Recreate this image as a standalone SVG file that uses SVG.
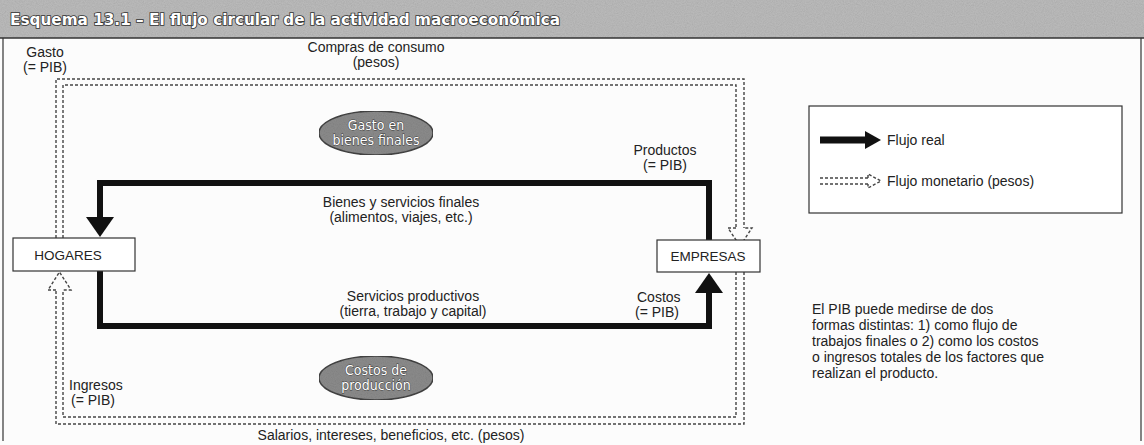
<svg xmlns="http://www.w3.org/2000/svg" width="1144" height="445" viewBox="0 0 1144 445">
<defs>
<filter id="noise" x="0" y="0" width="100%" height="100%">
<feTurbulence type="fractalNoise" baseFrequency="0.9" numOctaves="2" seed="3" result="n"/>
<feColorMatrix type="saturate" values="0"/>
<feComponentTransfer><feFuncA type="linear" slope="0.35"/></feComponentTransfer>
<feComposite in2="SourceGraphic" operator="in"/>
<feBlend in2="SourceGraphic" mode="multiply"/>
</filter>
</defs>
<style>
.t{font-family:"Liberation Sans",Arial,sans-serif;font-size:14px;fill:#222}
.b{font-family:"Liberation Sans",Arial,sans-serif;font-size:13.5px;fill:#222}
.p{font-family:"Liberation Sans",Arial,sans-serif;font-size:14px;fill:#222}
.box{fill:#fff;stroke:#333;stroke-width:1.2}
.real{fill:none;stroke:#111;stroke-width:6;stroke-linejoin:miter}
.head{fill:#111}
.money{fill:none;stroke:#444;stroke-width:1.4;stroke-dasharray:3 2}
.ell{fill:#8c8c8c;stroke:#444;stroke-width:1.5}
.et{font-family:"DejaVu Sans Condensed","Liberation Sans",sans-serif;font-size:14px;fill:#fff;stroke:#333;stroke-width:0.8;paint-order:stroke}
.title{font-family:"DejaVu Sans Condensed","Liberation Sans",sans-serif;font-weight:bold;font-size:16px;fill:#fff;stroke:#333;stroke-width:1.6;paint-order:stroke}
</style>
<rect x="0" y="0" width="1144" height="445" fill="#fcfcfc"/>
<g id="frame">
<rect x="0" y="0" width="1144" height="38" fill="#bcbcbc" filter="url(#noise)"/>
<line x1="0" y1="38" x2="1144" y2="38" stroke="#333" stroke-width="1.5"/>
<line x1="3" y1="38" x2="3" y2="441" stroke="#333" stroke-width="1.2"/>
<line x1="1141" y1="38" x2="1141" y2="441" stroke="#333" stroke-width="1.2"/>
<text class="title" x="10" y="25" textLength="550" lengthAdjust="spacingAndGlyphs">Esquema 13.1 – El flujo circular de la actividad macroeconómica</text>
</g>
<g id="connectors">
<path class="real" d="M100,218 V183 H709 V240"/>
<polygon class="head" points="86,217 114,217 100,237"/>
<path class="real" d="M100,271 V326 H709 V292"/>
<polygon class="head" points="695,293 723,293 709,273"/>
<path class="money" d="M56,238 V79 H744 V228"/>
<path class="money" d="M63,238 V85 H736 V228"/>
<path class="money" d="M736,228 H728 L740,246 L752,228 H744"/>
<path class="money" d="M744,272 V424 H56 V290"/>
<path class="money" d="M736,272 V417 H63 V290"/>
<path class="money" d="M56,290 H48 L59.5,272 L71,290 H63"/>
</g>
<g id="labels">
<text class="t" x="45" y="57" text-anchor="middle">Gasto</text>
<text class="t" x="45" y="72" text-anchor="middle">(= PIB)</text>
<text class="t" x="376" y="52" text-anchor="middle">Compras de consumo</text>
<text class="t" x="376" y="67" text-anchor="middle">(pesos)</text>
<text class="t" x="665" y="155" text-anchor="middle">Productos</text>
<text class="t" x="665" y="170" text-anchor="middle">(= PIB)</text>
<text class="t" x="401" y="207" text-anchor="middle">Bienes y servicios finales</text>
<text class="t" x="401" y="222" text-anchor="middle">(alimentos, viajes, etc.)</text>
<text class="t" x="413" y="301" text-anchor="middle">Servicios productivos</text>
<text class="t" x="413" y="316" text-anchor="middle">(tierra, trabajo y capital)</text>
<text class="t" x="637" y="302">Costos</text>
<text class="t" x="635" y="317">(= PIB)</text>
<text class="t" x="69" y="390">Ingresos</text>
<text class="t" x="71" y="405">(= PIB)</text>
<text class="t" x="391" y="440" text-anchor="middle">Salarios, intereses, beneficios, etc. (pesos)</text>
</g>
<g id="hogares">
<rect class="box" x="13" y="238" width="122" height="33"/>
<text class="b" x="68" y="260" text-anchor="middle">HOGARES</text>
</g>
<g id="empresas">
<rect class="box" x="657" y="240" width="103" height="32"/>
<text class="b" x="708" y="261" text-anchor="middle">EMPRESAS</text>
</g>
<g id="gasto-bienes">
<ellipse class="ell" cx="376" cy="133" rx="57" ry="22" filter="url(#noise)"/>
<text class="et" x="376" y="130" text-anchor="middle">Gasto en</text>
<text class="et" x="376" y="145" text-anchor="middle">bienes finales</text>
</g>
<g id="costos-produccion">
<ellipse class="ell" cx="376" cy="378" rx="57" ry="22" filter="url(#noise)"/>
<text class="et" x="376" y="375" text-anchor="middle">Costos de</text>
<text class="et" x="376" y="390" text-anchor="middle">producción</text>
</g>
<g id="legend">
<rect class="box" x="809" y="106" width="313" height="107"/>
<line x1="820" y1="140" x2="866" y2="140" stroke="#111" stroke-width="7"/>
<polygon class="head" points="865,131 881,140 865,149"/>
<text class="t" x="887" y="145">Flujo real</text>
<path class="money" d="M820,178 H868 M820,184 H868 M868,178 V174 L881,181 L868,188 V184"/>
<text class="t" x="887" y="186">Flujo monetario (pesos)</text>
</g>
<g id="note">
<text class="p" x="812" y="314">El PIB puede medirse de dos</text>
<text class="p" x="812" y="330">formas distintas: 1) como flujo de</text>
<text class="p" x="812" y="346">trabajos finales o 2) como los costos</text>
<text class="p" x="812" y="362">o ingresos totales de los factores que</text>
<text class="p" x="812" y="378">realizan el producto.</text>
</g>
</svg>
